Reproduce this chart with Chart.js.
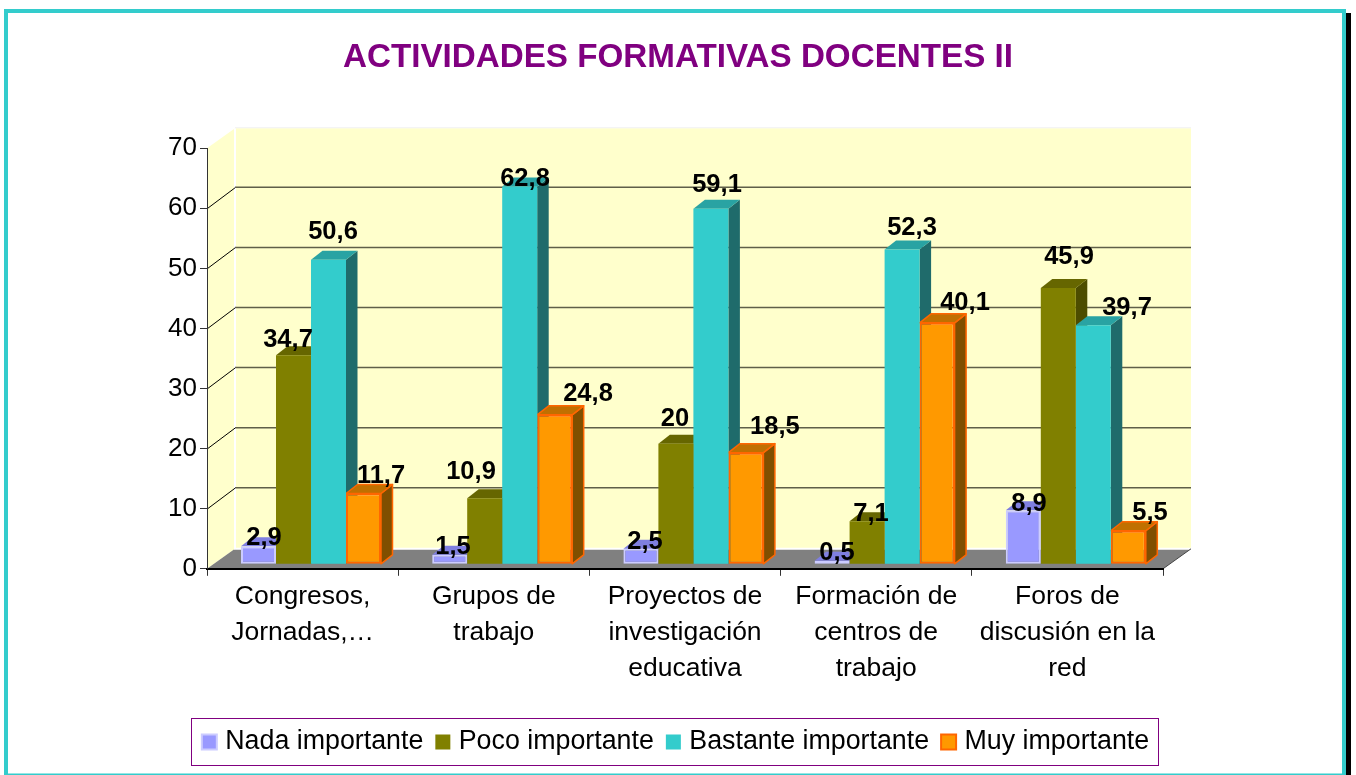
<!DOCTYPE html>
<html><head><meta charset="utf-8">
<style>html,body{margin:0;padding:0;background:#fff}canvas{display:block}</style>
<script src="https://cdn.jsdelivr.net/npm/chart.js@4"></script>
</head><body><canvas id="c" width="1356" height="775"></canvas>
<script>
const categories = [["Congresos,","Jornadas,…"],["Grupos de","trabajo"],["Proyectos de","investigación","educativa"],["Formación de","centros de","trabajo"],["Foros de","discusión en la","red"]];
const nadaImportante = [2.9,1.5,2.5,0.5,8.9];
const pocoImportante = [34.7,10.9,20,7.1,45.9];
const bastanteImportante = [50.6,62.8,59.1,52.3,39.7];
const muyImportante = [11.7,24.8,18.5,40.1,5.5];
const seriesNames = ["Nada importante","Poco importante","Bastante importante","Muy importante"];
const yTicks = [0,10,20,30,40,50,60,70];

// hand-moved label offsets seen in the picture, per series and category
const labelNudge = [
 [[5.5,-8.6],[3.3,-8],[4.1,-7],[4.9,-8],[5.7,-6.6]],
 [[-5.5,-15.8],[-13.7,-26.6],[-1,-25],[3.9,-7.4],[10.7,-30.6]],
 [[4.5,-27.4],[5.3,-7.2],[6.1,-23.4],[9.9,-21.2],[33.7,-17.8]],
 [[17.5,-17.8],[33.3,-21.2],[29,-26],[27.9,-20.4],[21.7,-18]]
];
const FONT = "'Liberation Sans', Arial, sans-serif";
const faces = [
 {front:'#9999FF',border:'#CCCCFF',top:'#7F7FE0',side:'#5C5C99'},
 {front:'#808000',border:'#808000',top:'#666600',side:'#4D4D00'},
 {front:'#33CCCC',border:'#33CCCC',top:'#29A3A3',side:'#1F6B6B'},
 {front:'#FF9900',border:'#FF6600',top:'#C07000',side:'#804F00'}
];
const WALL = {dx:28,dy:-20,gridDy:-21};
const BAR = {shift:8.4,dx:11.5,dy:-9};

const scene = {
 id:'scene',
 beforeDraw(chart){
  const {ctx,scales:{x,y}} = chart;
  const L=x.left,R=x.right,T=y.getPixelForValue(70),B=y.getPixelForValue(0);
  ctx.save();
  ctx.fillStyle='#fff';ctx.fillRect(0,0,chart.width,chart.height);
  // outer frame
  ctx.fillStyle='#000';ctx.fillRect(1346,13,5,762);
  ctx.fillStyle='#33CCCC';
  ctx.fillRect(4,9,1342,4);ctx.fillRect(1342,9,4,766);ctx.fillRect(4,9,4,766);ctx.fillRect(4,773.5,1342,1.5);
  // walls
  ctx.fillStyle='#FFFFCC';
  ctx.beginPath();ctx.moveTo(L,T);ctx.lineTo(L+WALL.dx,T+WALL.dy);ctx.lineTo(R+WALL.dx,T+WALL.dy);ctx.lineTo(R+WALL.dx,B+WALL.dy);ctx.lineTo(L+WALL.dx,B+WALL.dy);ctx.lineTo(L,B);ctx.closePath();ctx.fill();
  ctx.fillStyle='#808080';
  ctx.beginPath();ctx.moveTo(L,B);ctx.lineTo(L+WALL.dx,B+WALL.dy);ctx.lineTo(R+WALL.dx,B+WALL.dy);ctx.lineTo(R,B);ctx.closePath();ctx.fill();
  ctx.strokeStyle='#fff';ctx.lineWidth=2;
  ctx.beginPath();ctx.moveTo(L+WALL.dx,T+WALL.dy);ctx.lineTo(L+WALL.dx,B+WALL.dy);ctx.lineTo(R+WALL.dx,B+WALL.dy);ctx.stroke();
  ctx.strokeStyle='#F2F2F2';ctx.lineWidth=1;
  ctx.beginPath();ctx.moveTo(L+WALL.dx,T+WALL.dy-.5);ctx.lineTo(R+WALL.dx,T+WALL.dy-.5);ctx.stroke();
  // grid
  yTicks.forEach(v=>{
    if(v===0||v===70)return;
    const p=y.getPixelForValue(v);
    ctx.strokeStyle='#5F5F48';ctx.lineWidth=1.5;
    ctx.beginPath();ctx.moveTo(L+WALL.dx,p+WALL.gridDy);ctx.lineTo(R+WALL.dx,p+WALL.gridDy);ctx.stroke();
    ctx.strokeStyle='#000';ctx.lineWidth=1;
    ctx.beginPath();ctx.moveTo(L,p+.5);ctx.lineTo(L+WALL.dx,p+WALL.gridDy+.5);ctx.stroke();
  });
  ctx.strokeStyle='#444';ctx.lineWidth=1;
  ctx.beginPath();ctx.moveTo(R,B);ctx.lineTo(R+WALL.dx,B+WALL.dy);ctx.stroke();
  ctx.restore();
 },
 beforeDatasetsDraw(chart){
  const {ctx}=chart;
  ctx.save();ctx.translate(BAR.shift,0);
  chart.data.datasets.forEach((ds,i)=>{
   const f=faces[i],edged=i===3;
   chart.getDatasetMeta(i).data.forEach(el=>{
    const {x,y,base,width}=el.getProps(['x','y','base','width'],true);
    const l=x-width/2,r=x+width/2;
    ctx.strokeStyle=f.border;ctx.lineWidth=1.5;ctx.lineJoin='round';
    ctx.fillStyle=f.side;
    ctx.beginPath();ctx.moveTo(r,y);ctx.lineTo(r+BAR.dx,y+BAR.dy);ctx.lineTo(r+BAR.dx,base+BAR.dy);ctx.lineTo(r,base);ctx.closePath();ctx.fill();if(edged)ctx.stroke();
    ctx.fillStyle=f.top;
    ctx.beginPath();ctx.moveTo(l,y);ctx.lineTo(l+BAR.dx,y+BAR.dy);ctx.lineTo(r+BAR.dx,y+BAR.dy);ctx.lineTo(r,y);ctx.closePath();ctx.fill();if(edged)ctx.stroke();
   });
  });
  ctx.restore();
 },
 beforeDatasetDraw(chart){chart.ctx.save();chart.ctx.translate(BAR.shift,0);},
 afterDatasetDraw(chart){chart.ctx.restore();},
 afterDatasetsDraw(chart){
  const {ctx}=chart;
  ctx.save();
  ctx.font="bold 25.5px "+FONT;ctx.fillStyle='#000';ctx.textAlign='center';ctx.textBaseline='middle';
  chart.data.datasets.forEach((ds,i)=>{
    chart.getDatasetMeta(i).data.forEach((el,j)=>{
      const [nx,ny]=labelNudge[i][j];
      ctx.fillText(String(ds.data[j]).replace('.',','),el.x+BAR.shift+nx,el.y+ny);
    });
  });
  ctx.restore();
 },
 afterDraw(chart){
  const {ctx}=chart;
  ctx.save();ctx.strokeStyle='#800080';ctx.lineWidth=1;
  ctx.strokeRect(191.5,718.5,967,47);
  ctx.restore();
 }
};

const allSeries=[nadaImportante,pocoImportante,bastanteImportante,muyImportante];
new Chart(document.getElementById('c'),{
 type:'bar',
 data:{labels:categories,datasets:allSeries.map((d,i)=>({
   label:seriesNames[i],data:d,yAxisID:'yBars',clip:false,
   backgroundColor:faces[i].front,borderColor:faces[i].border,borderWidth:(i===0||i===3)?2:0,borderSkipped:false,
   barPercentage:1,categoryPercentage:140/191.2
 }))},
 plugins:[scene],
 options:{
  responsive:false,animation:false,
  layout:{padding:{left:0,right:0,top:0,bottom:9.7}},
  plugins:{
   tooltip:{enabled:false},
   title:{display:true,text:'ACTIVIDADES FORMATIVAS DOCENTES II',color:'#800080',font:{family:FONT,size:33.2,weight:'bold'},padding:{top:38,bottom:70.4}},
   legend:{position:'bottom',onClick:null,labels:{font:{family:FONT,size:26.8},color:'#000',padding:17,usePointStyle:true,pointStyle:'rect',boxWidth:5,boxHeight:15}}
  },
  scales:{
   x:{type:'category',offset:true,
      grid:{offset:true,drawOnChartArea:false,drawTicks:true,tickLength:7,color:'#333'},border:{color:'#000',width:2},
      ticks:{color:'#000',font:{family:FONT,size:26.5,lineHeight:36/26.5},maxRotation:0,minRotation:0,autoSkip:false,padding:3},
      afterFit(s){s.height=142.7;}},
   y:{type:'linear',position:'left',min:0,max:70,
      afterBuildTicks(s){s.ticks=yTicks.map(v=>({value:v}));},
      grid:{drawOnChartArea:false,tickLength:7,color:'#333'},border:{color:'#333',width:1},
      ticks:{color:'#000',font:{family:FONT,size:26},padding:3},
      afterFit(s){s.width=207;}},
   yBars:{type:'linear',position:'right',display:false,min:-0.8333,max:69.1667,afterFit(s){s.width=193;}}
  }
 }
});
</script></body></html>
